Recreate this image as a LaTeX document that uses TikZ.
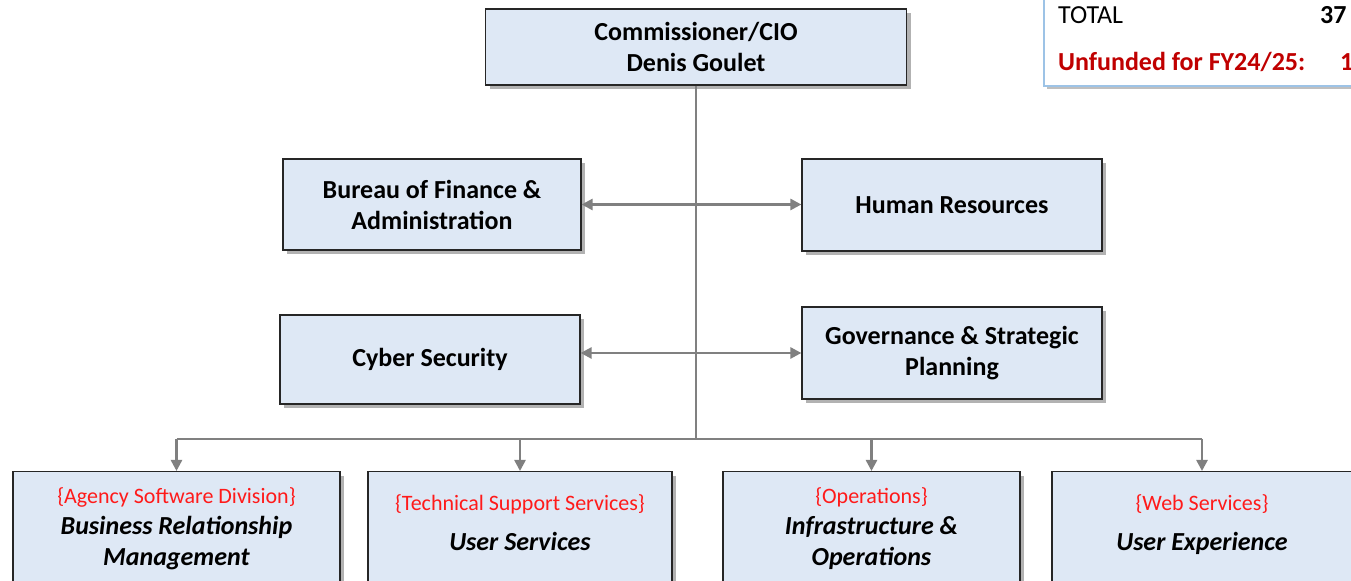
\documentclass[tikz,border=0pt]{standalone}
\usepackage{fontspec}
\setmainfont{Carlito}
\usepackage{xcolor}
\usetikzlibrary{shadows,arrows.meta,calc,positioning}
\definecolor{boxblue}{HTML}{DEE8F5}
\definecolor{linkgray}{HTML}{808080}
\definecolor{tagred}{HTML}{FF1A1A}
\definecolor{darkred}{HTML}{C00000}
\definecolor{edgeblue}{HTML}{9DC3E6}
\newcommand{\divtag}[1]{\textcolor{tagred}{\fontsize{11}{13}\selectfont\mdseries\{#1\}}}
\tikzset{
    unit/.style={draw=black!85,fill=boxblue,line width=0.6pt,inner sep=0pt,align=center,
        drop shadow={shadow xshift=2.2pt,shadow yshift=-2.2pt,opacity=0.3,fill=black},
        font=\fontsize{13}{15.5}\selectfont\bfseries},
    div/.style={unit,anchor=north,minimum height=57pt},
    link/.style={draw=linkgray,line width=1.25pt},
}

\begin{document}
\begin{tikzpicture}[x=0.5pt,y=-0.5pt,>={Triangle[length=5.5pt,width=5.5pt]}]
                \clip (0,0) rectangle (1351,581);
                \fill[white] (0,0) rectangle (1351,581);

                \node[unit,minimum width=210.5pt,minimum height=38pt] (cio) at (696,47) {Commissioner/CIO\\Denis Goulet};
                \node[unit,minimum width=149pt,minimum height=45.5pt] (bfa) at (432,204.5) {Bureau of Finance \&\\Administration};
                \node[unit,minimum width=150pt,minimum height=46pt] (hr) at (952,205) {Human Resources};
                \node[unit,minimum width=150pt,minimum height=44.5pt] (cs) at (430,359.5) {Cyber Security};
                \node[unit,minimum width=150pt,minimum height=46pt] (gsp) at (952,353) {Governance \& Strategic\\Planning};

                \node[div,minimum width=163.5pt] (brm) at (176.5,471) {\divtag{Agency Software Division}\\\textit{Business Relationship}\\\textit{Management}};
                \node[div,minimum width=152pt,text depth=6pt] (us) at (520,471) {\divtag{Technical Support Services}\\[4.5pt]\textit{User Services}};
                \node[div,minimum width=148.5pt] (io) at (871.5,471) {\divtag{Operations}\\\textit{Infrastructure \&}\\\textit{Operations}};
                \node[div,minimum width=150pt,text depth=6pt] (ux) at (1202,471) {\divtag{Web Services}\\[4.5pt]\textit{User Experience}};

                % totals box in the corner
                \node[draw=edgeblue,fill=white,line width=0.8pt,anchor=south west,minimum width=180pt,minimum height=60pt,
                    drop shadow={shadow xshift=1.5pt,shadow yshift=-1.5pt,opacity=0.25,fill=black}] (tot) at (1043,87) {};
                \node[anchor=west,font=\fontsize{13}{15.5}\selectfont] (t1) at (1051,15) {TOTAL};
                \node[anchor=west,font=\fontsize{13}{15.5}\selectfont\bfseries] (n1) at (1313,15) {37};
                \node[anchor=west,text=darkred,font=\fontsize{13}{15.5}\selectfont\bfseries] (t2) at (1051,62) {Unfunded for FY24/25:};
                \node[anchor=west,text=darkred,font=\fontsize{13}{15.5}\selectfont\bfseries] (n2) at (1333,62) {1};

                \coordinate (bus) at (696,439);
                \draw[link] (cio.south) -- (bus);
                \draw[link,<->] (bfa.east) -- (bfa.east -| hr.west);
                \draw[link,<->] (cs.east |- gsp) -- (gsp.west);
                \draw[link] (brm.north |- bus) -- (ux.north |- bus);

                \foreach \d in {brm,us,io,ux}
                    \draw[link,->] (\d.north |- bus) -- (\d.north);
            \end{tikzpicture}
\end{document}
